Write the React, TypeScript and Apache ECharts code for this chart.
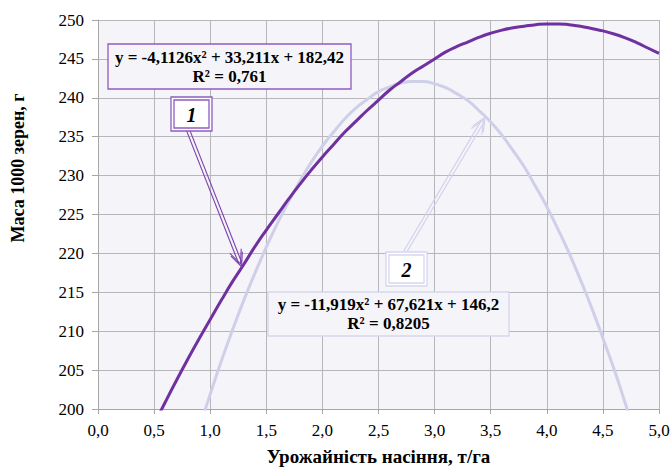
import React, { useEffect, useRef } from "react";
import * as echarts from "echarts";

// Series 1 (dark purple)
const xs1 = [0.5, 0.6, 0.7, 0.8, 0.9, 1.0, 1.1, 1.2, 1.3, 1.4, 1.5, 1.6, 1.7, 1.8, 1.9, 2.0, 2.1, 2.2, 2.3, 2.4, 2.5, 2.6, 2.7, 2.8, 2.9, 3.0, 3.1, 3.2, 3.3, 3.4, 3.5, 3.6, 3.7, 3.8, 3.9, 4.0, 4.1, 4.2, 4.3, 4.4, 4.5, 4.6, 4.7, 4.8, 4.9, 5.0];
const ys1 = [198.0, 200.9, 203.7, 206.4, 209.0, 211.5, 214.0, 216.4, 218.6, 220.9, 223.0, 225.0, 227.0, 228.9, 230.7, 232.4, 234.0, 235.6, 237.0, 238.4, 239.7, 241.0, 242.1, 243.2, 244.1, 245.0, 245.9, 246.6, 247.2, 247.8, 248.3, 248.7, 249.0, 249.2, 249.4, 249.5, 249.5, 249.4, 249.2, 248.9, 248.6, 248.2, 247.7, 247.1, 246.4, 245.7];

// Series 2 (light lavender)
const xs2 = [0.9, 1.0, 1.1, 1.2, 1.3, 1.4, 1.5, 1.6, 1.7, 1.8, 1.9, 2.0, 2.1, 2.2, 2.3, 2.4, 2.5, 2.6, 2.7, 2.8, 2.9, 3.0, 3.1, 3.2, 3.3, 3.4, 3.5, 3.6, 3.7, 3.8, 3.9, 4.0, 4.1, 4.2, 4.3, 4.4, 4.5, 4.6, 4.7, 4.8];
const ys2 = [197.4, 201.9, 206.2, 210.2, 214.0, 217.5, 220.8, 223.9, 226.7, 229.3, 231.7, 233.8, 235.6, 237.3, 238.7, 239.8, 240.8, 241.4, 241.9, 242.1, 242.1, 241.8, 241.3, 240.5, 239.6, 238.3, 236.9, 235.2, 233.2, 231.1, 228.6, 226.0, 223.1, 220.0, 216.6, 213.0, 209.1, 205.1, 200.7, 196.2];

const eq1 = ["y = -4,1126x² + 33,211x + 182,42", "R² = 0,761"];
const eq2 = ["y = -11,919x² + 67,621x + 146,2", "R² = 0,8205"];
const label1 = "1";
const label2 = "2";
const arrowTip1 = [1.28, 218.3];
const arrowTip2 = [3.45, 237.5];

const xTitle = "Урожайність насіння, т/га";
const yTitle = "Маса 1000 зерен, г";

const C1 = "#7030a0";
const C2 = "#cfcfea";
const BG = "#f4f4f9";
const FONT = "Liberation Serif";

function arrow(from: number[], to: number[], color: string): any[] {
  const dx = to[0] - from[0];
  const dy = to[1] - from[1];
  const len = Math.sqrt(dx * dx + dy * dy);
  const ux = dx / len, uy = dy / len;
  const px = -uy, py = ux;
  const off = 1.6;
  const els: any[] = [];
  const endBack = 4;
  for (const s of [-1, 1]) {
    els.push({
      type: "line",
      shape: {
        x1: from[0] + px * off * s, y1: from[1] + py * off * s,
        x2: to[0] - ux * endBack + px * off * s, y2: to[1] - uy * endBack + py * off * s,
      },
      style: { stroke: color, lineWidth: 1.1 },
      z: 50,
    });
  }
  const head = 15;
  const ang = 0.42;
  for (const back of [0, 3]) {
    const tx = to[0] - ux * back, ty = to[1] - uy * back;
    const c = Math.cos(ang), sn = Math.sin(ang);
    const l1 = [tx - head * (ux * c - uy * sn), ty - head * (uy * c + ux * sn)];
    const l2 = [tx - head * (ux * c + uy * sn), ty - head * (uy * c - ux * sn)];
    els.push({
      type: "polyline",
      shape: { points: [l1, [tx, ty], l2] },
      style: { stroke: color, lineWidth: 1.1, fill: null },
      z: 50,
    });
  }
  return els;
}

function textEl(txt: string, x: number, y: number, size: number, weight: string, style: string, lineHeight?: number): any {
  return {
    type: "text", z: 52,
    style: {
      text: txt, x, y,
      fontFamily: FONT, fontSize: size, fontWeight: weight, fontStyle: style,
      lineHeight: lineHeight || size * 1.15, fill: "#000",
      textAlign: "center", align: "center", textVerticalAlign: "middle", verticalAlign: "middle",
    },
  };
}

function doubleBox(x: number, y: number, w: number, h: number, color: string, txt: string): any[] {
  return [
    { type: "rect", shape: { x, y, width: w, height: h }, style: { fill: "#ffffff", stroke: color, lineWidth: 1.3 }, z: 50 },
    { type: "rect", shape: { x: x + 3, y: y + 3, width: w - 6, height: h - 6 }, style: { fill: "#ffffff", stroke: color, lineWidth: 1.3 }, z: 51 },
    textEl(txt, x + w / 2, y + h / 2 + 1, 20, "bold", "italic"),
  ];
}

function eqBox(x: number, y: number, w: number, h: number, color: string, lines: string[]): any[] {
  return [
    { type: "rect", shape: { x, y, width: w, height: h }, style: { fill: BG, stroke: color, lineWidth: 1.3 }, z: 50 },
    textEl(lines.join("\n"), x + w / 2, y + h / 2, 17, "bold", "normal", 19),
  ];
}

export default function App() {
  const ref = useRef<HTMLDivElement>(null);
  useEffect(() => {
    if (!ref.current) return;
    const chart = echarts.init(ref.current, null, { renderer: "svg" });
    const fmtX = (v: number) => v.toFixed(1).replace(".", ",");
    chart.setOption({
      animation: false,
      backgroundColor: "#ffffff",
      textStyle: { fontFamily: FONT },
      grid: {
        left: 98, right: 13, top: 20, bottom: 59, show: true, backgroundColor: BG, borderWidth: 0,
        containLabel: false, outerBoundsMode: "none",
      },
      xAxis: {
        type: "value", min: 0, max: 5, interval: 0.5,
        name: xTitle, nameLocation: "middle", nameGap: 38,
        nameTextStyle: { fontFamily: FONT, fontWeight: "bold", fontSize: 19, color: "#000" },
        axisLine: { show: true, lineStyle: { color: "#a6a6a6", width: 1 } },
        axisTick: { show: true, length: 5, lineStyle: { color: "#a6a6a6" } },
        axisLabel: { formatter: fmtX, fontFamily: FONT, fontSize: 17, color: "#000", margin: 13 },
        splitLine: { show: true, lineStyle: { color: "#b6b6bb", width: 1 } },
      },
      yAxis: {
        type: "value", min: 200, max: 250, interval: 5,
        axisLine: { show: true, lineStyle: { color: "#a6a6a6", width: 1 } },
        axisTick: { show: true, length: 6, lineStyle: { color: "#a6a6a6" } },
        axisLabel: { fontFamily: FONT, fontSize: 17, color: "#000", margin: 14 },
        splitLine: { show: true, lineStyle: { color: "#b6b6bb", width: 1 } },
      },
      series: [
        {
          type: "line", name: "1", data: xs1.map((x, i) => [x, ys1[i]]),
          smooth: true, showSymbol: false, symbol: "none", clip: true,
          lineStyle: { color: C1, width: 3 }, z: 3,
        },
        {
          type: "line", name: "2", data: xs2.map((x, i) => [x, ys2[i]]),
          smooth: true, showSymbol: false, symbol: "none", clip: true,
          lineStyle: { color: C2, width: 3 }, z: 2,
        },
      ],
    });
    const tip1 = chart.convertToPixel({ gridIndex: 0 }, arrowTip1) as number[];
    const tip2 = chart.convertToPixel({ gridIndex: 0 }, arrowTip2) as number[];
    const yt = textEl(yTitle, 0, 0, 18, "bold", "normal");
    const graphics: any[] = [
      ...eqBox(108, 44, 243, 45, "#8e5cc0", eq1),
      ...eqBox(268, 292, 241, 44, "#d6d6ee", eq2),
      ...arrow([188, 130], tip1, "#7a3fae"),
      ...arrow([405, 252], tip2, "#d0d0ec"),
      ...doubleBox(171, 97, 41, 34, "#8e5cc0", label1),
      ...doubleBox(386, 252, 41, 34, "#d6d6ee", label2),
      { ...yt, x: 18, y: 168, rotation: Math.PI / 2, z: 60 },
    ];
    chart.setOption({ graphic: { elements: graphics } });
    return () => chart.dispose();
  }, []);
  return <div ref={ref} style={{ position: "fixed", left: 0, top: 0, width: 672, height: 468 }} />;
}
